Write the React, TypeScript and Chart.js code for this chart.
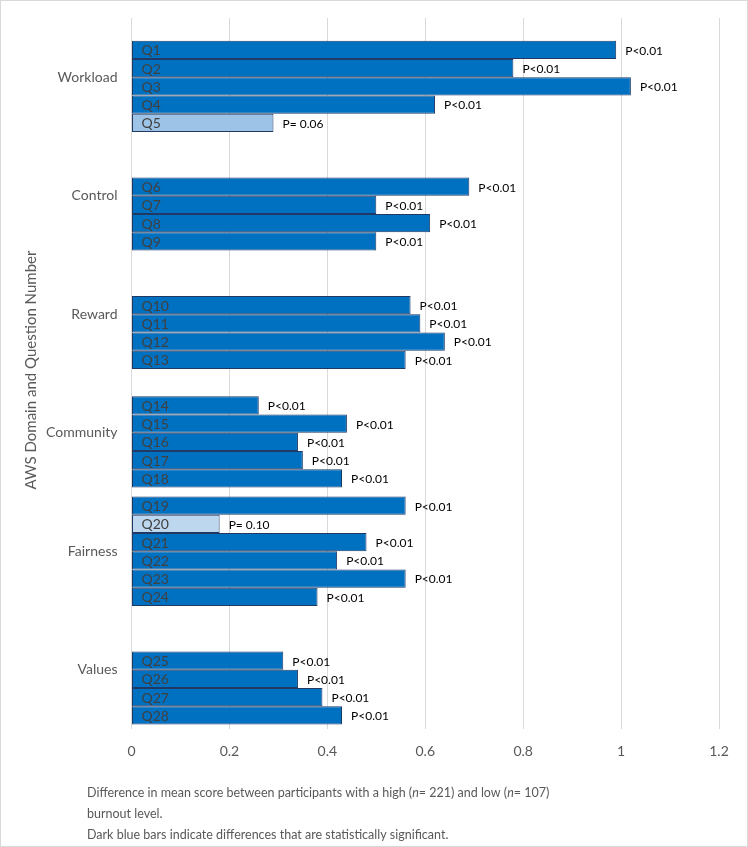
import React, { useEffect, useRef } from "react";
import { Chart, registerables } from "chart.js";

Chart.register(...registerables);

// ---- Data ----
const domains = ["Workload", "Control", "Reward", "Community", "Fairness", "Values"];
const domainSizes = [5, 4, 4, 5, 6, 4];
const questions = [
  "Q1", "Q2", "Q3", "Q4", "Q5",
  "Q6", "Q7", "Q8", "Q9",
  "Q10", "Q11", "Q12", "Q13",
  "Q14", "Q15", "Q16", "Q17", "Q18",
  "Q19", "Q20", "Q21", "Q22", "Q23", "Q24",
  "Q25", "Q26", "Q27", "Q28",
];
const differences = [
  0.99, 0.78, 1.02, 0.62, 0.29,
  0.69, 0.5, 0.61, 0.5,
  0.57, 0.59, 0.64, 0.56,
  0.26, 0.44, 0.34, 0.35, 0.43,
  0.56, 0.18, 0.48, 0.42, 0.56, 0.38,
  0.31, 0.34, 0.39, 0.43,
];
const pLabels = [
  "P<0.01", "P<0.01", "P<0.01", "P<0.01", "P= 0.06",
  "P<0.01", "P<0.01", "P<0.01", "P<0.01",
  "P<0.01", "P<0.01", "P<0.01", "P<0.01",
  "P<0.01", "P<0.01", "P<0.01", "P<0.01", "P<0.01",
  "P<0.01", "P= 0.10", "P<0.01", "P<0.01", "P<0.01", "P<0.01",
  "P<0.01", "P<0.01", "P<0.01", "P<0.01",
];
const xTicks = [0, 0.2, 0.4, 0.6, 0.8, 1, 1.2];
const axisTitle = "AWS Domain and Question Number";
const footnoteLines = [
  ["Difference in mean score between participants with a high (", { i: "n" }, "= 221) and low (", { i: "n" }, "= 107)"],
  ["burnout level."],
  ["Dark blue bars indicate differences that are statistically significant."],
];

// ---- Styles ----
const FONT = "Lato, 'Open Sans', sans-serif";
const SIG_FILL = "#0070C0";
const NONSIG_FILL: Record<string, string> = { Q5: "#9DC3E6", Q20: "#BDD7EE" };
const BORDER = "#1F3864";
const GRAY = "#595959";
const SLOTS = 6;

// Build slot mapping: bars fill the bottom slots of each domain band
const slotMap: (number | null)[][] = Array.from({ length: SLOTS }, () => domains.map(() => null));
{
  let q = 0;
  domainSizes.forEach((n, d) => {
    for (let k = 0; k < n; k++) {
      slotMap[SLOTS - n + k][d] = q++;
    }
  });
}

export default function App() {
  const ref = useRef<HTMLCanvasElement | null>(null);

  useEffect(() => {
    document.body.style.margin = "0";
    const canvas = ref.current!;
    const datasets = slotMap.map((row, s) => ({
      label: "slot" + s,
      data: row.map((qi) => (qi == null ? null : differences[qi])),
      backgroundColor: row.map((qi) =>
        qi == null ? SIG_FILL : NONSIG_FILL[questions[qi]] || SIG_FILL
      ),
      borderColor: BORDER,
      borderWidth: 1,
      borderSkipped: false as const,
      categoryPercentage: 0.923,
      barPercentage: 1.0,
    }));

    const labelPlugin = {
      id: "labels",
      afterDatasetsDraw(chart: any) {
        const ctx = chart.ctx;
        const area = chart.chartArea;
        ctx.save();
        ctx.textBaseline = "middle";
        slotMap.forEach((row, s) => {
          const meta = chart.getDatasetMeta(s);
          row.forEach((qi, d) => {
            if (qi == null) return;
            const el = meta.data[d];
            ctx.font = `14px ${FONT}`;
            ctx.fillStyle = "#404040";
            ctx.textAlign = "left";
            ctx.fillText(questions[qi], area.left + 10, el.y + 1);
            ctx.font = `12px ${FONT}`;
            ctx.fillStyle = "#000000";
            ctx.fillText(pLabels[qi], el.x + 9, el.y + 1);
          });
        });
        ctx.restore();
      },
      afterDraw(chart: any) {
        const ctx = chart.ctx;
        ctx.save();
        // axis title
        ctx.font = `15px ${FONT}`;
        ctx.fillStyle = GRAY;
        ctx.textAlign = "center";
        ctx.textBaseline = "middle";
        ctx.translate(31, 370);
        ctx.rotate(-Math.PI / 2);
        ctx.fillText(axisTitle, 0, 0);
        ctx.restore();

        // footnote
        ctx.save();
        ctx.fillStyle = GRAY;
        ctx.textBaseline = "middle";
        ctx.textAlign = "left";
        const ys = [793, 814, 835];
        footnoteLines.forEach((parts, li) => {
          let x = 87;
          parts.forEach((p: any) => {
            const txt = typeof p === "string" ? p : p.i;
            ctx.font = typeof p === "string" ? `12.5px ${FONT}` : `italic 12.5px ${FONT}`;
            ctx.fillText(txt, x, ys[li]);
            x += ctx.measureText(txt).width;
          });
        });
        ctx.restore();

        // outer border
        ctx.save();
        ctx.strokeStyle = "#d9d9d9";
        ctx.lineWidth = 1;
        ctx.strokeRect(0.5, 0.5, chart.width - 1, chart.height - 1);
        ctx.restore();
      },
    };

    const chart = new Chart(canvas, {
      type: "bar",
      data: { labels: domains, datasets },
      options: {
        indexAxis: "y",
        animation: false,
        responsive: false,
        devicePixelRatio: 1,
        layout: { padding: { top: 18, right: 29, left: 0, bottom: 0 } },
        plugins: { legend: { display: false }, tooltip: { enabled: false } },
        scales: {
          x: {
            type: "linear",
            min: 0,
            max: 1.2,
            afterBuildTicks: (scale: any) => {
              scale.ticks = xTicks.map((v) => ({ value: v }));
            },
            afterFit: (scale: any) => {
              scale.height = 118;
              scale.paddingLeft = 0;
              scale.paddingRight = 0;
            },
            ticks: {
              font: { family: FONT, size: 14 },
              color: GRAY,
              padding: 14,
              callback: (v: any) => String(Number(Number(v).toFixed(1))),
            },
            grid: { color: "#d9d9d9", drawTicks: false, lineWidth: 1 },
            border: { display: false },
          },
          y: {
            type: "category",
            afterFit: (scale: any) => {
              scale.width = 131.5;
              scale.paddingTop = 0;
              scale.paddingBottom = 0;
            },
            ticks: {
              font: { family: FONT, size: 14 },
              color: GRAY,
              padding: 14,
            },
            grid: { display: false, drawTicks: false },
            border: { display: false },
          },
        },
      },
      plugins: [labelPlugin],
    });
    return () => chart.destroy();
  }, []);

  return (
    <div style={{ width: 748, height: 847, position: "relative", background: "#fff" }}>
      <canvas ref={ref} width={748} height={847} style={{ display: "block" }} />
    </div>
  );
}
